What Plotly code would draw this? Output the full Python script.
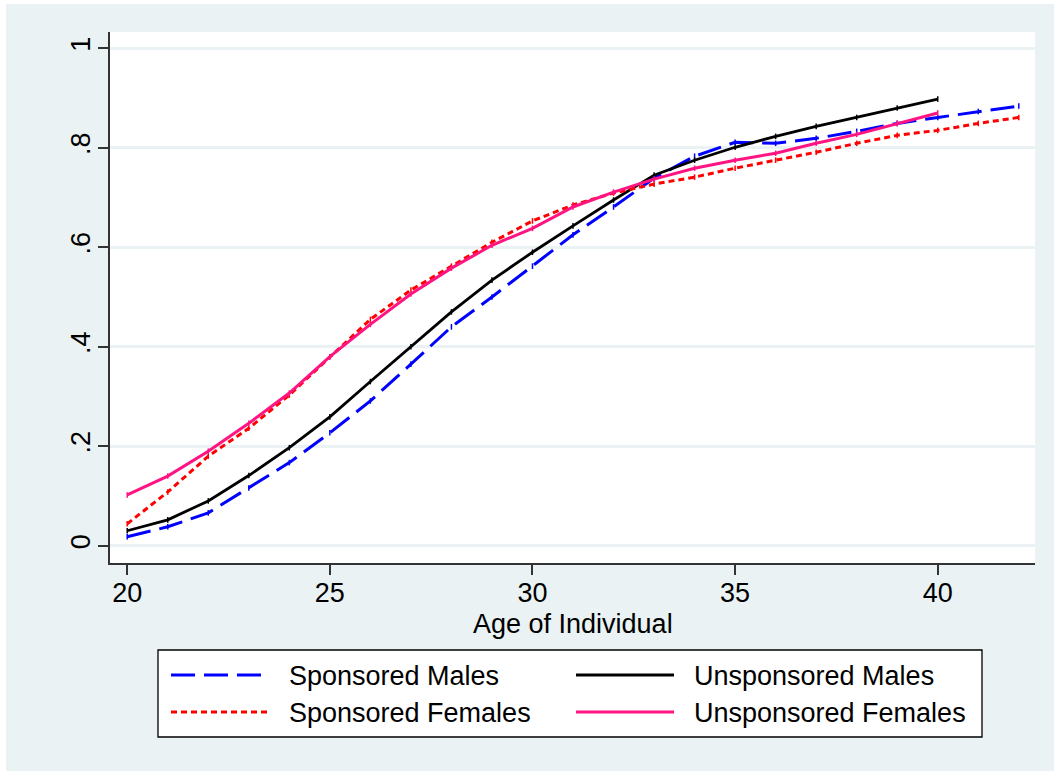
import plotly.graph_objects as go

# ---------------- data ----------------
ages_sm = list(range(20, 43))
sponsored_males = [0.018, 0.038, 0.066, 0.116, 0.167, 0.227, 0.291, 0.365, 0.44, 0.50,
                   0.562, 0.625, 0.681, 0.739, 0.783, 0.811, 0.809, 0.819, 0.833, 0.849,
                   0.861, 0.873, 0.884]

ages_um = list(range(20, 41))
unsponsored_males = [0.03, 0.052, 0.090, 0.141, 0.197, 0.259, 0.33, 0.40, 0.47, 0.534,
                     0.59, 0.643, 0.695, 0.745, 0.775, 0.801, 0.823, 0.843, 0.861, 0.88,
                     0.898]

ages_sf = list(range(20, 43))
sponsored_females = [0.044, 0.108, 0.18, 0.236, 0.303, 0.38, 0.455, 0.514, 0.562, 0.61,
                     0.653, 0.685, 0.709, 0.727, 0.741, 0.759, 0.775, 0.791, 0.809, 0.825,
                     0.835, 0.849, 0.861]

ages_uf = list(range(20, 41))
unsponsored_females = [0.102, 0.14, 0.19, 0.246, 0.307, 0.38, 0.445, 0.506, 0.558, 0.604,
                       0.638, 0.681, 0.711, 0.737, 0.759, 0.775, 0.789, 0.809, 0.827, 0.849,
                       0.870]

x_ticks = [20, 25, 30, 35, 40]
y_ticks = [0, 0.2, 0.4, 0.6, 0.8, 1]
y_tick_labels = ["0", ".2", ".4", ".6", ".8", "1"]
x_title = "Age of Individual"

series_names = ["Sponsored Males", "Unsponsored Males", "Sponsored Females", "Unsponsored Females"]
colors = ["#0000FF", "#000000", "#FF0000", "#FF1482"]
dashes = ["24px,9px", "solid", "6px,4px", "solid"]
widths = [3, 2.8, 3, 3]

FONT = "Liberation Sans, Arial, sans-serif"
FS = 27
BG = "#EAF2F3"

W, H = 1054, 771
L, R, T, B = 110, 19, 32, 208
PW, PH = W - L - R, H - T - B


def px(xp):
    return (xp - L) / PW


def py(yp):
    return (H - B - yp) / PH


fig = go.Figure()
data = [(ages_sm, sponsored_males), (ages_um, unsponsored_males),
        (ages_sf, sponsored_females), (ages_uf, unsponsored_females)]
for (xs, ys), name, c, d, w in zip(data, series_names, colors, dashes, widths):
    fig.add_trace(go.Scatter(
        x=xs, y=ys, mode="lines+markers", name=name,
        line=dict(color=c, width=w, dash=d),
        marker=dict(symbol="line-ns", size=4, line=dict(color=c, width=1.5)),
        showlegend=False, hoverinfo="skip"))

shapes = []
annotations = []
# white strips at the top/left edge of the picture
shapes.append(dict(type="rect", xref="paper", yref="paper", x0=px(0), x1=px(6), y0=py(H), y1=py(0),
                   fillcolor="white", line=dict(width=0), layer="above"))
shapes.append(dict(type="rect", xref="paper", yref="paper", x0=px(0), x1=px(W), y0=py(4), y1=py(0),
                   fillcolor="white", line=dict(width=0), layer="above"))

# x-axis title
annotations.append(dict(xref="paper", yref="paper", x=0.5, y=py(624), text=x_title, showarrow=False,
                        xanchor="center", yanchor="middle", font=dict(family=FONT, size=FS, color="black")))

# legend box
lx0, lx1, ly0, ly1 = 158, 982, 650, 737
shapes.append(dict(type="rect", xref="paper", yref="paper", x0=px(lx0), x1=px(lx1), y0=py(ly1), y1=py(ly0),
                   fillcolor="white", line=dict(color="#000000", width=1.3), layer="above"))
cols = [(171, 269, 287), (576, 674, 692)]
rows = [675, 712]
for i, (name, c, d, w) in enumerate(zip(series_names, colors, dashes, widths)):
    r, k = divmod(i, 2)
    sx0, sx1, tx = cols[k]
    yy = rows[r]
    shapes.append(dict(type="line", xref="paper", yref="paper", x0=px(sx0), x1=px(sx1), y0=py(yy), y1=py(yy),
                       line=dict(color=c, width=w, dash=d), layer="above"))
    annotations.append(dict(xref="paper", yref="paper", x=px(tx), y=py(yy + 1), text=name, showarrow=False,
                            xanchor="left", yanchor="middle", font=dict(family=FONT, size=FS, color="black")))

fig.update_layout(
    width=W, height=H,
    margin=dict(l=L, r=R, t=T, b=B),
    paper_bgcolor=BG, plot_bgcolor="white",
    font=dict(family=FONT, size=FS, color="black"),
    shapes=shapes, annotations=annotations,
    showlegend=False,
    xaxis=dict(range=[19.575, 42.40], tickvals=x_ticks, ticks="outside", ticklen=10, tickwidth=1.5,
               tickcolor="#333333", showline=True, linecolor="#333333", linewidth=2, showgrid=False,
               zeroline=False, tickfont=dict(size=FS), ticklabelstandoff=-5),
    yaxis=dict(range=[-0.0348, 1.0328], tickvals=y_ticks, ticktext=y_tick_labels, ticks="outside",
               ticklen=10, tickwidth=1.5, tickcolor="#333333", showline=True, linecolor="#333333",
               linewidth=2, showgrid=True, gridcolor=BG, gridwidth=2.5, zeroline=False,
               tickangle=-90, tickfont=dict(size=FS), ticklabelstandoff=-3),
)

fig.write_html("out.html")
